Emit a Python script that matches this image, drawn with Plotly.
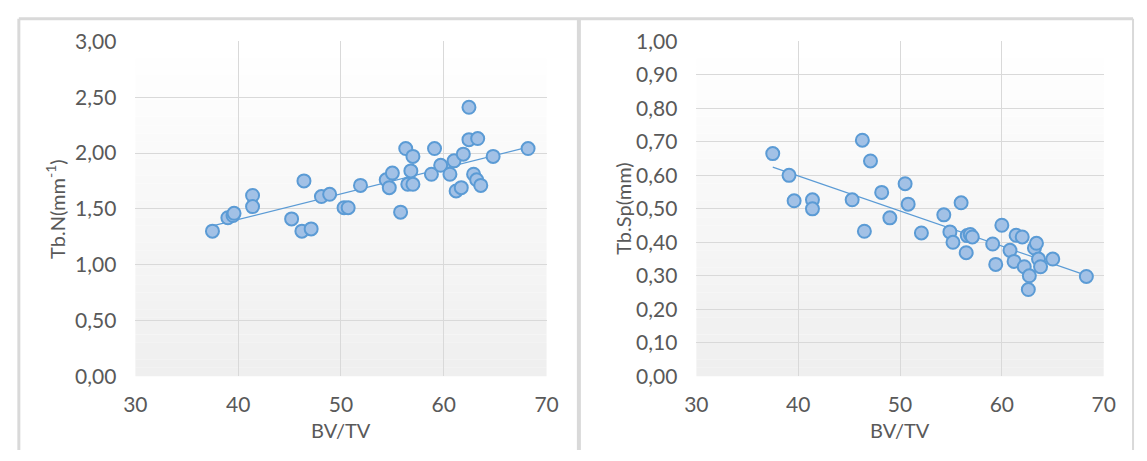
import numpy as np
import plotly.graph_objects as go

# ---------------- data ----------------
bvtv_n = [37.5, 39.0, 39.5, 39.6, 41.4, 41.4, 45.2, 46.2, 46.4, 47.1, 48.1, 48.9,
          50.3, 50.7, 51.9, 54.4, 54.7, 55.0, 55.8, 56.3, 56.5, 56.8, 57.0, 57.0,
          58.8, 59.1, 59.7, 60.6, 61.0, 61.2, 61.7, 61.9, 62.45, 62.45, 62.9, 63.2,
          63.3, 63.6, 64.8, 68.2]
tb_n = [1.30, 1.42, 1.44, 1.46, 1.62, 1.52, 1.41, 1.30, 1.75, 1.32, 1.61, 1.63,
        1.51, 1.51, 1.71, 1.76, 1.69, 1.82, 1.47, 2.04, 1.72, 1.84, 1.97, 1.72,
        1.81, 2.04, 1.89, 1.81, 1.93, 1.66, 1.69, 1.99, 2.41, 2.12, 1.81, 1.76,
        2.13, 1.71, 1.97, 2.04]

bvtv_sp = [37.5, 39.1, 39.6, 41.4, 41.4, 45.3, 46.3, 46.5, 47.1, 48.2, 49.0, 50.5,
           50.8, 52.1, 54.3, 54.9, 55.2, 56.0, 56.5, 56.6, 56.9, 57.1, 59.1, 59.4,
           60.0, 60.8, 61.2, 61.4, 62.0, 62.2, 62.6, 62.7, 63.2, 63.4, 63.6, 63.8,
           65.0, 68.3]
tb_sp = [0.665, 0.600, 0.524, 0.527, 0.500, 0.527, 0.705, 0.433, 0.643, 0.549, 0.473, 0.575,
         0.514, 0.428, 0.482, 0.431, 0.400, 0.518, 0.369, 0.420, 0.423, 0.416, 0.395, 0.334,
         0.451, 0.376, 0.343, 0.421, 0.416, 0.327, 0.259, 0.300, 0.383, 0.397, 0.350, 0.327,
         0.350, 0.298]

x_ticks = [30, 40, 50, 60, 70]
y_ticks_n = [0.0, 0.5, 1.0, 1.5, 2.0, 2.5, 3.0]
y_ticks_sp = [round(0.1 * i, 1) for i in range(11)]

def comma(v):
    return f"{v:.2f}".replace(".", ",")

# ---------------- style ----------------
W, H = 1147, 461
FONT = "Lato, 'Open Sans', sans-serif"
TXT = "#595959"
GRID = "#D9D9D9"
MFILL = "#A2C1E6"
MLINE = "#5B9BD5"
FS = 21

fig = go.Figure()

def trend(xs, ys):
    k, b = np.polyfit(xs, ys, 1)
    xl = [min(xs), max(xs)]
    return xl, [k * v + b for v in xl]

for xs, ys, xa, ya in [(bvtv_n, tb_n, "x", "y"), (bvtv_sp, tb_sp, "x2", "y2")]:
    tx, ty = trend(xs, ys)
    fig.add_trace(go.Scatter(x=tx, y=ty, mode="lines", xaxis=xa, yaxis=ya,
                             line=dict(color=MLINE, width=1.2), showlegend=False,
                             hoverinfo="skip"))
    fig.add_trace(go.Scatter(x=xs, y=ys, mode="markers", xaxis=xa, yaxis=ya,
                             marker=dict(size=13, color=MFILL,
                                         line=dict(color=MLINE, width=2)),
                             showlegend=False))

py0, py1 = 1 - 383 / H, 1 - 29 / H
common_x = dict(range=[30, 70], tickvals=x_ticks, showgrid=True, gridcolor=GRID,
                gridwidth=1, zeroline=False, showline=False, ticks="",
                tickfont=dict(family=FONT, size=FS, color=TXT), ticklabelstandoff=14,
                fixedrange=True)
common_y = dict(showgrid=True, gridcolor=GRID, gridwidth=1, zeroline=False,
                showline=False, ticks="", tickfont=dict(family=FONT, size=FS, color=TXT),
                ticklabelstandoff=18, fixedrange=True)

fig.update_layout(
    width=W, height=H, margin=dict(l=0, r=0, t=0, b=0),
    paper_bgcolor="white", plot_bgcolor="rgba(0,0,0,0)",
    xaxis=dict(domain=[126 / W, 546 / W], anchor="y", **common_x),
    yaxis=dict(domain=[py0, py1], anchor="x", range=[0, 3], tickvals=y_ticks_n,
               ticktext=[comma(v) for v in y_ticks_n], **common_y),
    xaxis2=dict(domain=[699 / W, 1115 / W], anchor="y2", **common_x),
    yaxis2=dict(domain=[py0, py1], anchor="x2", range=[0, 1], tickvals=y_ticks_sp,
                ticktext=[comma(v) for v in y_ticks_sp], **common_y),
)

# gradient plot backgrounds (white at top -> light gray at bottom)
shapes = []
nb = 40
for xr, yr in [("x domain", "y domain"), ("x2 domain", "y2 domain")]:
    for i in range(nb):
        t = i / (nb - 1)
        c = int(round(255 - (255 - 239) * (1 - t)))
        shapes.append(dict(type="rect", xref=xr, yref=yr, x0=0, x1=1,
                           y0=i / nb, y1=(i + 1) / nb, line=dict(width=0),
                           fillcolor=f"rgb({c},{c},{c})", layer="below"))

# chart frames
FR = "#D9D9D9"
def pline(x0, y0, x1, y1, w=3):
    return dict(type="line", xref="paper", yref="paper", x0=x0 / W, x1=x1 / W,
                y0=1 - y0 / H, y1=1 - y1 / H, line=dict(color=FR, width=w))
shapes += [pline(7, 5, 1145, 5), pline(7, 5, 7, 461), pline(579, 5, 579, 461, 4),
           pline(1145, 5, 1145, 461, 2)]
fig.update_layout(shapes=shapes)

# axis titles
ann = [
    dict(text="BV/TV", x=336 / W, y=1 - 440 / H),
    dict(text="BV/TV", x=907 / W, y=1 - 440 / H),
    dict(text="Tb.N(mm<sup>-1</sup>)", x=44 / W, y=1 - 206 / H, textangle=-90),
    dict(text="Tb.Sp(mm)", x=624 / W, y=1 - 206 / H, textangle=-90),
]
for a in ann:
    fig.add_annotation(xref="paper", yref="paper", showarrow=False,
                       xanchor="center", yanchor="middle",
                       font=dict(family=FONT, size=20, color=TXT), **a)

fig.write_html("out.html",
               config={"displayModeBar": False, "staticPlot": True},
               post_script="document.body.style.margin='0';"
                           "document.body.style.overflow='hidden';")
